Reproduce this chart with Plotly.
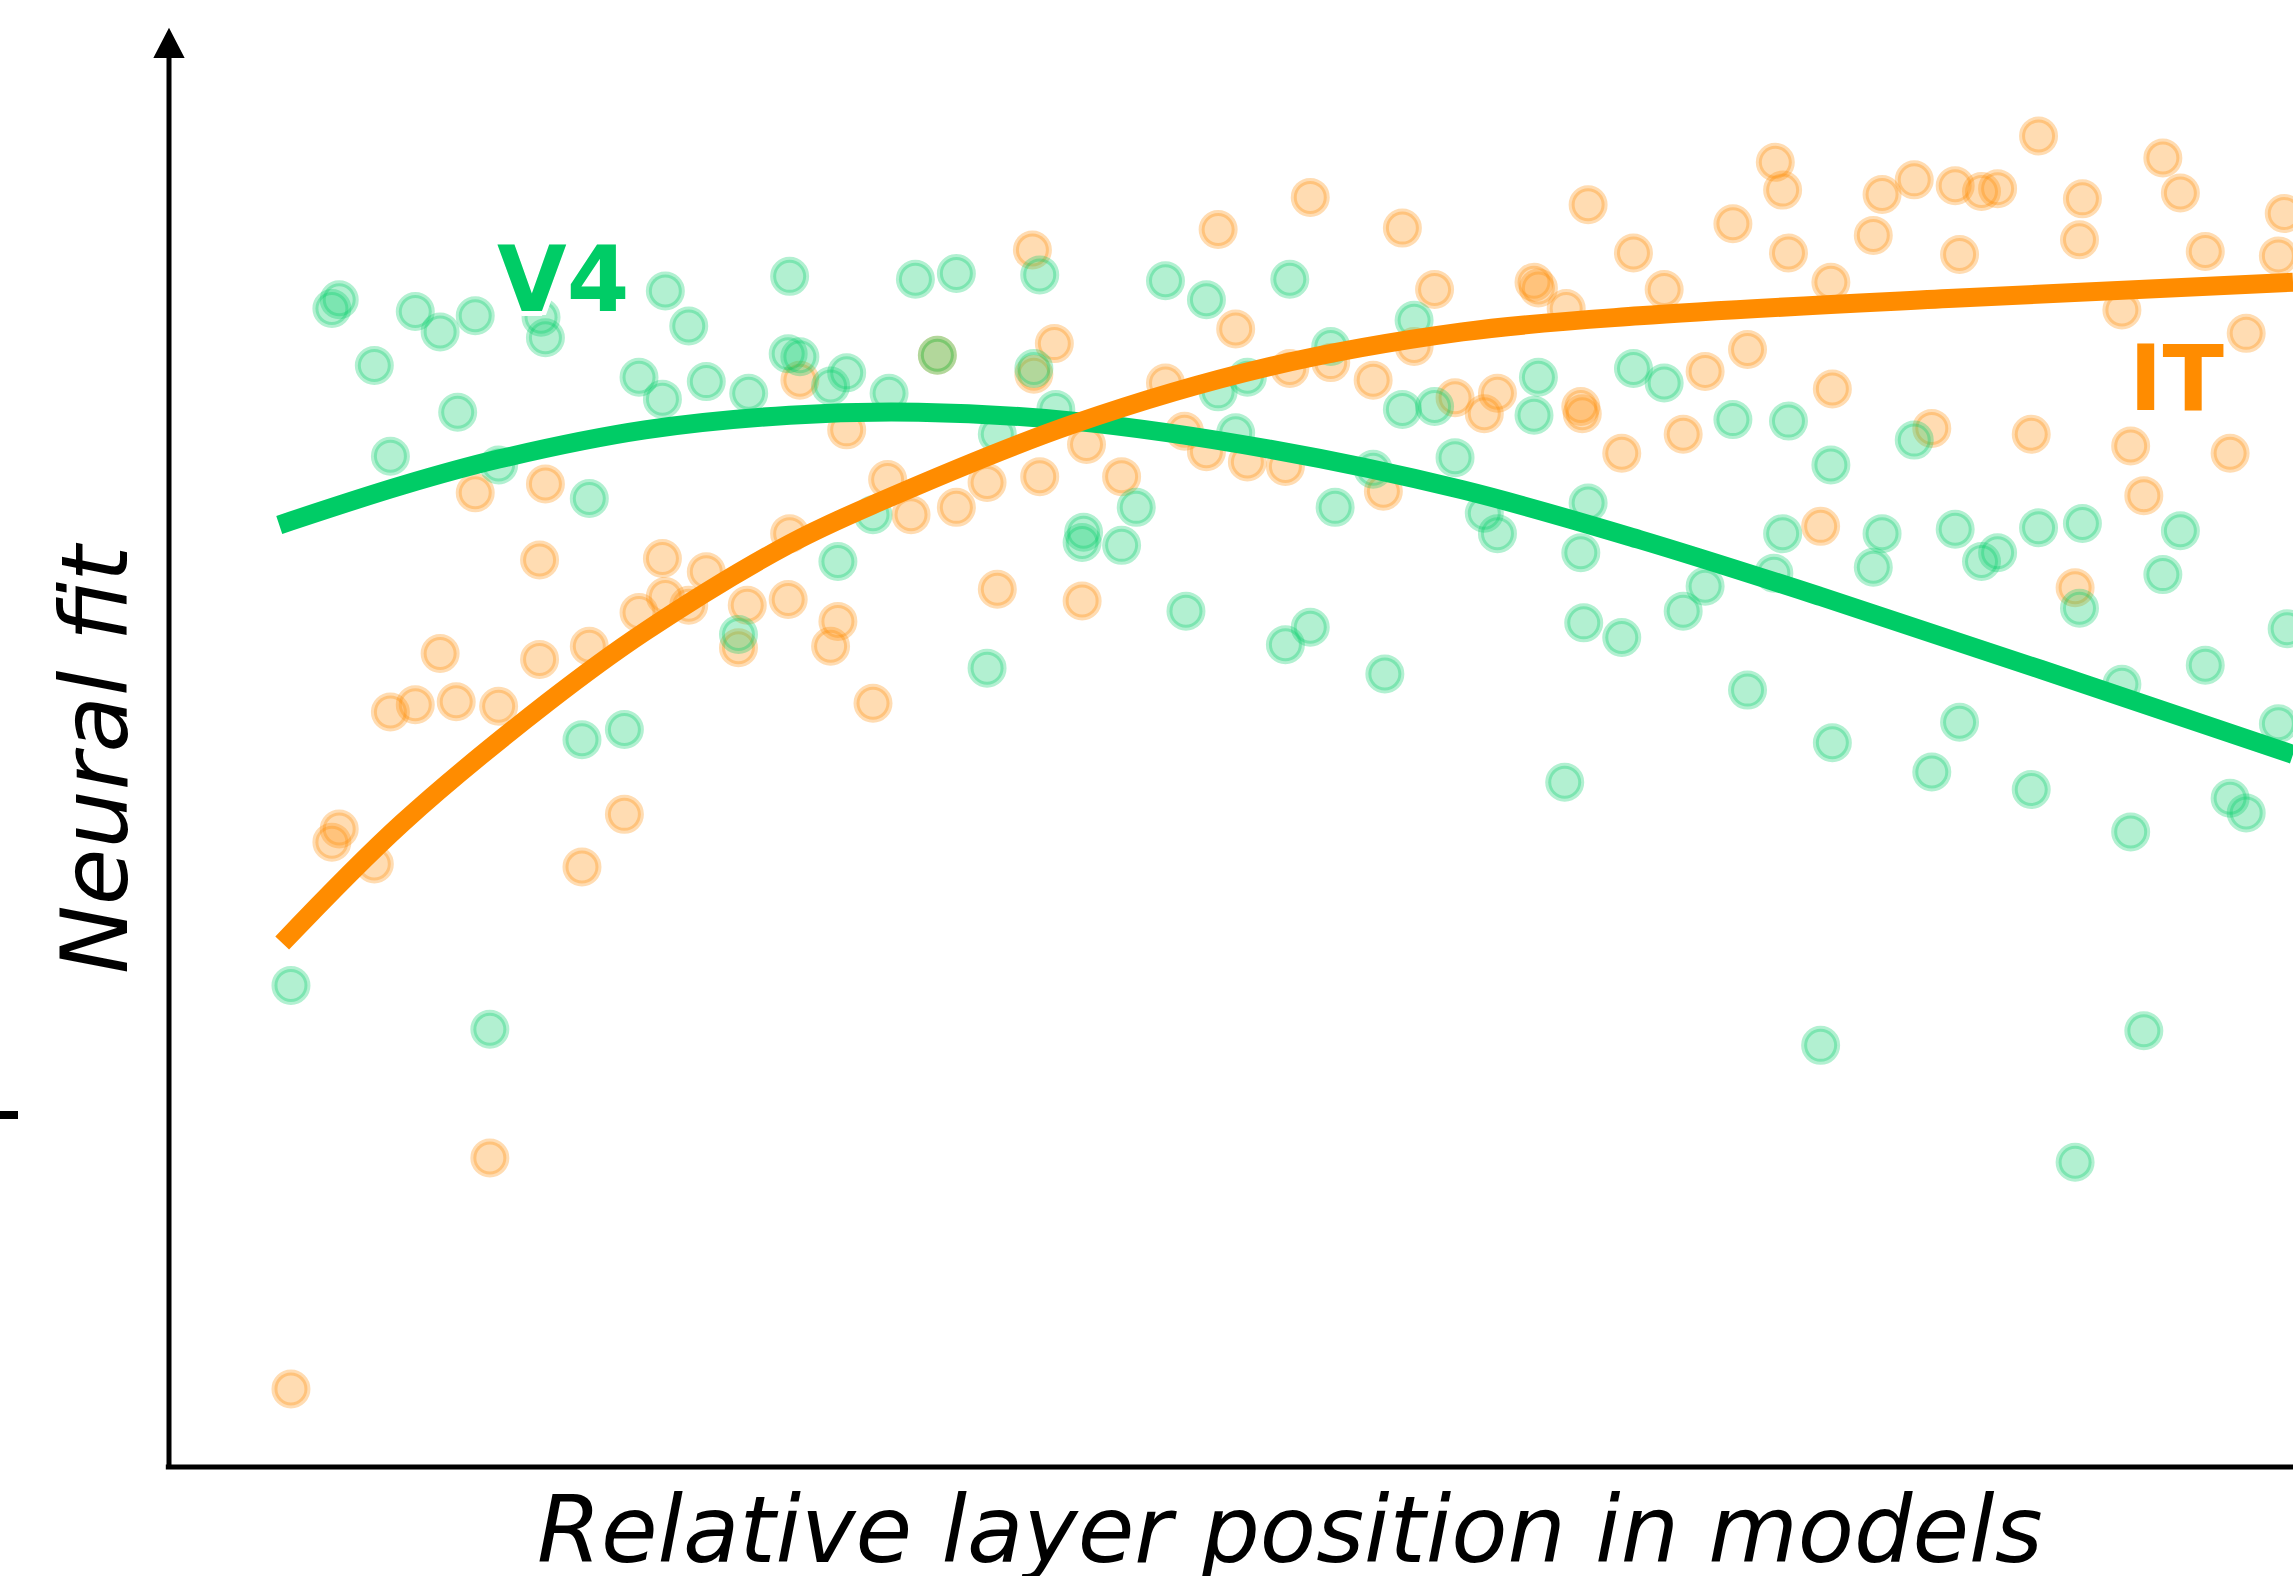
import plotly.graph_objects as go

# ---- data (relative layer position, neural fit; arbitrary units, no ticks on chart) ----
v4_x = [0.001, 0.029, 0.034, 0.058, 0.069, 0.086, 0.103, 0.115, 0.127, 0.137,
        0.143, 0.172, 0.175, 0.200, 0.205, 0.229, 0.239, 0.255, 0.257, 0.273,
        0.285, 0.307, 0.314, 0.342, 0.341, 0.349, 0.370, 0.375, 0.381, 0.399,
        0.410, 0.428, 0.443, 0.456, 0.477, 0.484, 0.509, 0.513, 0.524, 0.543,
        0.542, 0.569, 0.579, 0.599, 0.613, 0.627, 0.635, 0.647, 0.655, 0.681,
        0.684, 0.698, 0.712, 0.715, 0.741, 0.749, 0.761, 0.769, 0.783, 0.797,
        0.817, 0.826, 0.851, 0.854, 0.872, 0.883, 0.885, 0.888, 0.911, 0.919,
        0.940, 0.953, 0.968, 0.987, 0.997, 1.015, 1.021, 1.025, 1.047, 1.054,
        1.055, 1.083, 1.089, 1.111, 1.123, 1.139, 1.142, 1.157, 1.168, 1.191,
        1.196, 1.221, 1.224, 1.226, 1.253, 1.259, 1.268, 1.281, 1.293, 1.310,
        1.327, 1.338, 1.360, 1.366]
v4_y = [0.329, 0.792, 0.798, 0.753, 0.691, 0.790, 0.776, 0.721, 0.787, 0.299,
        0.685, 0.786, 0.772, 0.497, 0.662, 0.504, 0.745, 0.730, 0.804, 0.780,
        0.742, 0.569, 0.734, 0.814, 0.761, 0.759, 0.739, 0.619, 0.748, 0.651,
        0.734, 0.812, 0.760, 0.816, 0.546, 0.706, 0.751, 0.815, 0.723, 0.639,
        0.632, 0.630, 0.656, 0.811, 0.585, 0.798, 0.735, 0.707, 0.745, 0.562,
        0.812, 0.574, 0.766, 0.656, 0.682, 0.542, 0.723, 0.784, 0.725, 0.690,
        0.652, 0.638, 0.719, 0.745, 0.468, 0.625, 0.577, 0.659, 0.567, 0.751,
        0.741, 0.585, 0.602, 0.716, 0.531, 0.611, 0.638, 0.715, 0.288, 0.685,
        0.495, 0.615, 0.638, 0.702, 0.475, 0.641, 0.509, 0.619, 0.625, 0.463,
        0.642, 0.208, 0.587, 0.645, 0.535, 0.434, 0.298, 0.610, 0.640, 0.548,
        0.457, 0.447, 0.508, 0.573]

it_x = [0.001, 0.029, 0.034, 0.058, 0.069, 0.086, 0.103, 0.114, 0.127, 0.137,
        0.143, 0.171, 0.171, 0.175, 0.200, 0.205, 0.229, 0.239, 0.255, 0.257,
        0.273, 0.285, 0.307, 0.313, 0.341, 0.342, 0.349, 0.370, 0.375, 0.381,
        0.399, 0.409, 0.425, 0.443, 0.456, 0.477, 0.484, 0.508, 0.509, 0.513,
        0.523, 0.542, 0.545, 0.569, 0.599, 0.612, 0.627, 0.635, 0.647, 0.655,
        0.681, 0.684, 0.698, 0.712, 0.741, 0.748, 0.761, 0.769, 0.783, 0.797,
        0.817, 0.826, 0.851, 0.854, 0.873, 0.883, 0.884, 0.888, 0.911, 0.919,
        0.940, 0.953, 0.968, 0.987, 0.997, 1.016, 1.021, 1.025, 1.047, 1.054,
        1.055, 1.083, 1.089, 1.111, 1.123, 1.139, 1.142, 1.157, 1.168, 1.191,
        1.196, 1.221, 1.224, 1.226, 1.253, 1.259, 1.268, 1.281, 1.293, 1.310,
        1.327, 1.338, 1.360, 1.364]
it_y = [0.053, 0.427, 0.436, 0.412, 0.516, 0.521, 0.556, 0.523, 0.666, 0.211,
        0.520, 0.620, 0.552, 0.672, 0.410, 0.561, 0.446, 0.584, 0.621, 0.595,
        0.589, 0.612, 0.560, 0.589, 0.593, 0.638, 0.743, 0.561, 0.578, 0.709,
        0.522, 0.675, 0.651, 0.760, 0.656, 0.673, 0.600, 0.832, 0.747, 0.677,
        0.768, 0.592, 0.699, 0.677, 0.741, 0.708, 0.694, 0.846, 0.778, 0.687,
        0.684, 0.751, 0.868, 0.755, 0.743, 0.667, 0.847, 0.766, 0.805, 0.731,
        0.720, 0.734, 0.810, 0.806, 0.792, 0.725, 0.720, 0.863, 0.693, 0.830,
        0.805, 0.706, 0.749, 0.850, 0.764, 0.892, 0.873, 0.830, 0.643, 0.810,
        0.737, 0.842, 0.870, 0.880, 0.710, 0.876, 0.829, 0.872, 0.874, 0.706,
        0.910, 0.601, 0.839, 0.867, 0.791, 0.698, 0.664, 0.895, 0.871, 0.831,
        0.693, 0.775, 0.828, 0.857]

# fitted trend curves
v4_fit_x = [-0.007, 0.077, 0.143, 0.243, 0.342, 0.430, 0.536, 0.669, 0.802, 0.923, 1.047, 1.198, 1.370]
v4_fit_y = [0.644, 0.671, 0.689, 0.709, 0.719, 0.721, 0.715, 0.696, 0.668, 0.634, 0.595, 0.545, 0.487]
it_fit_x = [-0.005, 0.077, 0.177, 0.243, 0.342, 0.404, 0.536, 0.669, 0.802, 0.923, 1.138, 1.370]
it_fit_y = [0.358, 0.440, 0.523, 0.571, 0.631, 0.660, 0.713, 0.752, 0.776, 0.787, 0.799, 0.810]

labels = {"V4": (0.1870, 0.812), "IT": (1.290, 0.744)}
x_title = "Relative layer position in models"
y_title = "Neural fit"

GREEN = "#00cc66"
ORANGE = "#ff8c00"
GREEN_A = "rgba(0,204,102,0.3)"
ORANGE_A = "rgba(255,140,0,0.3)"

W, H = 2293, 1576
ML, MR, MT, MB = 169, 0, 30, 109

fig = go.Figure()

def scatter(x, y, col):
    return go.Scatter(x=x, y=y, mode="markers", hoverinfo="skip", showlegend=False,
                      marker=dict(size=33, color=col, line=dict(color=col, width=6)))

fig.add_trace(scatter(it_x, it_y, ORANGE_A))
fig.add_trace(scatter(v4_x, v4_y, GREEN_A))
fig.add_trace(go.Scatter(x=v4_fit_x, y=v4_fit_y, mode="lines", showlegend=False,
                         line=dict(color=GREEN, width=19, shape="spline", smoothing=1.0)))
fig.add_trace(go.Scatter(x=it_fit_x, y=it_fit_y, mode="lines", showlegend=False,
                         line=dict(color=ORANGE, width=19, shape="spline", smoothing=1.0)))

outline = ", ".join(f"{dx}px {dy}px 0 #ffffff" for dx, dy in
                    [(-4, -4), (4, -4), (-4, 4), (4, 4), (0, 5), (0, -5), (5, 0), (-5, 0)])
for txt, col in [("V4", GREEN), ("IT", ORANGE)]:
    lx, ly = labels[txt]
    fig.add_annotation(x=lx, y=ly, xref="x", yref="y", text=f"<b>{txt}</b>", showarrow=False,
                       xanchor="center", yanchor="middle",
                       font=dict(family="DejaVu Sans", size=90, color=col, shadow=outline))

fig.add_annotation(x=(1290 - ML) / (W - ML - MR), y=(H - MB - 1530) / (H - MT - MB),
                   xref="paper", yref="paper", text=x_title, showarrow=False,
                   xanchor="center", yanchor="middle",
                   font=dict(family="DejaVu Sans", size=92, color="black", style="italic"))
fig.add_annotation(x=(96 - ML) / (W - ML - MR), y=(H - MB - 759) / (H - MT - MB),
                   xref="paper", yref="paper", text=y_title, showarrow=False, textangle=-90,
                   xanchor="center", yanchor="middle",
                   font=dict(family="DejaVu Sans", size=92, color="black", style="italic"))

ph = H - MT - MB
# axes with arrow on y
fig.add_shape(type="line", xref="paper", yref="paper", x0=-0.0015, x1=1.0, y0=0, y1=0,
              line=dict(color="black", width=5))
fig.add_shape(type="path", xref="paper", yref="paper", xsizemode="pixel", ysizemode="pixel",
              xanchor=0, yanchor=0, path=f"M 0 -2 L 0 {ph - 20}",
              line=dict(color="black", width=5))
fig.add_shape(type="path", xref="paper", yref="paper", xsizemode="pixel", ysizemode="pixel",
              xanchor=0, yanchor=0,
              path=f"M -14 {ph - 27} L 0 {ph} L 14 {ph - 27} Z",
              fillcolor="black", line=dict(color="black", width=2))
# clipped tick mark at the far left
fig.add_shape(type="rect", xref="paper", yref="paper", xsizemode="pixel", ysizemode="pixel",
              xanchor=0, yanchor=0, x0=-170, x1=-151, y0=H - MB - 1119, y1=H - MB - 1111,
              fillcolor="black", line=dict(width=0))

fig.update_xaxes(range=[-0.0824, 1.370], visible=False, showgrid=False, zeroline=False)
fig.update_yaxes(range=[-0.0004, 0.9825], visible=False, showgrid=False, zeroline=False)
fig.update_layout(width=W, height=H, margin=dict(l=ML, r=MR, t=MT, b=MB),
                  paper_bgcolor="white", plot_bgcolor="white", showlegend=False)

fig.write_html("out.html", config={"displayModeBar": False},
               post_script="document.body.style.margin='0px';"
                           "document.body.style.overflow='hidden';"
                           "document.documentElement.style.overflow='hidden';")
